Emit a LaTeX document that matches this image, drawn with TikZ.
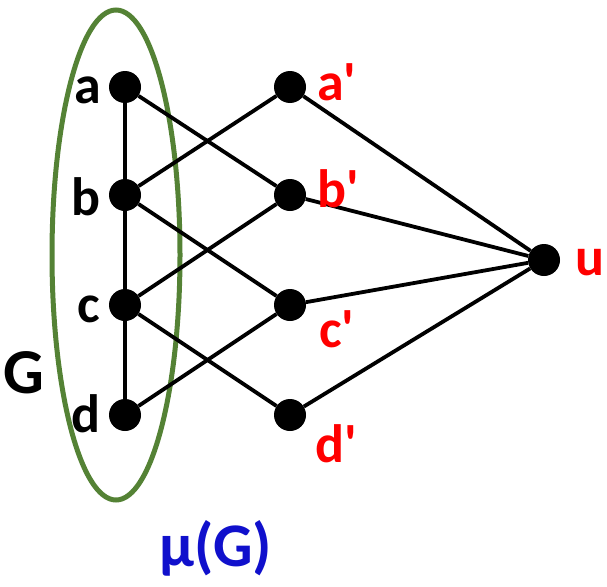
\documentclass[tikz,border=0pt]{standalone}
\usepackage{fontspec}
\usepackage{xcolor}
\usepackage{tikz}
\setmainfont{Carlito}
\newfontfamily\lblfont{Carlito}[Ligatures=TeXOff]
\definecolor{ellGreen}{HTML}{548235}
\definecolor{lblRed}{HTML}{FF0000}
\definecolor{muBlue}{HTML}{1010CC}

\begin{document}
\begin{tikzpicture}[
  x=1pt, y=-1pt,
  vertex/.style={circle, fill=black, inner sep=0pt, minimum size=32pt},
  e/.style={line width=3.8pt},
  lbl/.style={font=\lblfont\fontsize{54}{54}\selectfont\bfseries, inner sep=0pt},
  plbl/.style={lbl, anchor=base west, text=lblRed},
  glbl/.style={font=\lblfont\fontsize{64}{64}\selectfont\bfseries, inner sep=0pt, anchor=base west}
]
\useasboundingbox (0,0) rectangle (607,586);

% the set G
\draw[ellGreen, line width=5pt] (116,255) ellipse (64 and 245);

% vertices of G
\node[vertex] (a) at (125,87) {};
\node[vertex] (b) at (125,195) {};
\node[vertex] (c) at (125,305) {};
\node[vertex] (d) at (125,415) {};
% shadow vertices
\node[vertex] (ap) at (290,87) {};
\node[vertex] (bp) at (290,195) {};
\node[vertex] (cp) at (290,305) {};
\node[vertex] (dp) at (290,415) {};
\node[vertex] (u) at (544,260) {};

% path of G
\draw[e] (a) -- (b);
\draw[e] (b) -- (c);
\draw[e] (c) -- (d);
% crossing edges
\draw[e] (a) -- (bp);
\draw[e] (b) -- (ap);
\draw[e] (b) -- (cp);
\draw[e] (c) -- (bp);
\draw[e] (c) -- (dp);
\draw[e] (d) -- (cp);
% edges to u
\draw[e] (ap) -- (u);
\draw[e] (bp) -- (u);
\draw[e] (cp) -- (u);
\draw[e] (dp) -- (u);

% labels
\node[lbl, anchor=base east] (la) at (101,103) {a};
\node[lbl, anchor=base east] (lb) at (101,215) {b};
\node[lbl, anchor=base east] (lc) at (100,322) {c};
\node[lbl, anchor=base east] (ld) at (101,432) {d};
\node[plbl] (lap) at (317,100) {a'};
\node[plbl] (lbp) at (317,207) {b'};
\node[plbl] (lcp) at (319,347) {c'};
\node[plbl] (ldp) at (315,462) {d'};
\node[plbl] (lu) at (575,275) {u};
\node[glbl] (lG) at (3,393) {G};
\node[glbl, text=muBlue, font=\lblfont\fontsize{62}{62}\selectfont\bfseries] (lmu) at (159,566) {μ(G)};
\end{tikzpicture}
\end{document}
